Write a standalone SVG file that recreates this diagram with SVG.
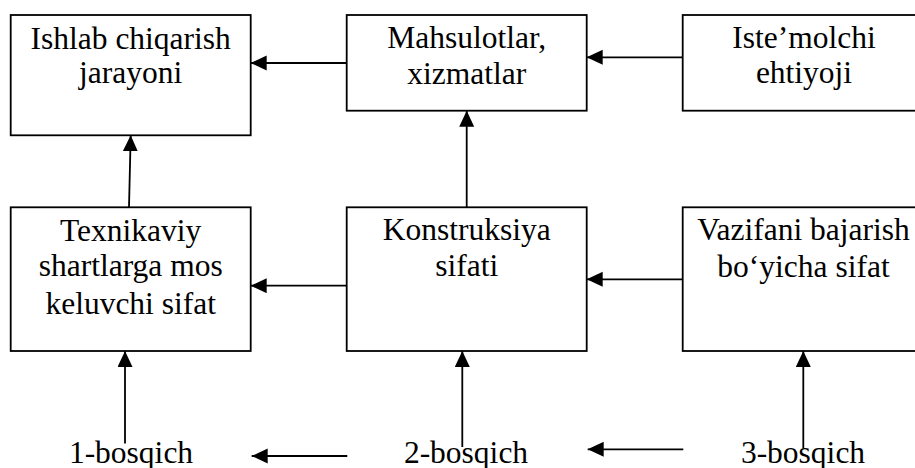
<svg xmlns="http://www.w3.org/2000/svg" width="915" height="468" viewBox="0 0 915 468">
<style>
rect.b{fill:#fff;stroke:#000;stroke-width:1.8}
text{font-size:31.5px;fill:#000;text-anchor:middle}
.c line{stroke:#000;stroke-width:1.8;marker-end:url(#ah)}
</style>
<defs>
<marker id="ah" markerUnits="userSpaceOnUse" markerWidth="18" markerHeight="16" refX="16" refY="7.5" orient="auto">
<path d="M0,0 L16,7.5 L0,15 Z" fill="#000"/>
</marker>
</defs>
<rect width="915" height="468" fill="#fff"/>
<g font-family="'Liberation Serif', Tinos, 'Times New Roman', 'DejaVu Serif', serif">
<g id="n1"><rect class="b" x="10.7" y="15" width="240" height="120.3"/><text x="130.7" y="48.5">Ishlab chiqarish</text><text x="130.7" y="82.5">jarayoni</text></g>
<g id="n2"><rect class="b" x="346.7" y="15" width="240" height="95.7"/><text x="466.7" y="48.3">Mahsulotlar,</text><text x="466.7" y="84">xizmatlar</text></g>
<g id="n3"><rect class="b" x="682.7" y="15" width="242" height="95.7"/><text x="804" y="48.3">Iste’molchi</text><text x="804" y="83.3">ehtiyoji</text></g>
<g id="n4"><rect class="b" x="10.7" y="207.3" width="240" height="143.7"/><text x="130.7" y="240.5">Texnikaviy</text><text x="130.7" y="276">shartlarga mos</text><text x="130.7" y="313.5">keluvchi sifat</text></g>
<g id="n5"><rect class="b" x="346.7" y="207.3" width="240" height="143.7"/><text x="466.7" y="240">Konstruksiya</text><text x="466.7" y="276">sifati</text></g>
<g id="n6"><rect class="b" x="682.7" y="207.3" width="242" height="143.7"/><text x="803.5" y="240">Vazifani bajarish</text><text x="803.5" y="276.5">bo‘yicha sifat</text></g>
<g id="s1"><text x="131" y="463">1-bosqich</text></g>
<g id="s2"><text x="466" y="463">2-bosqich</text></g>
<g id="s3"><text x="803" y="463">3-bosqich</text></g>
</g>
<g class="c" id="connectors">
<line x1="346.7" y1="63" x2="250.7" y2="63"/>
<line x1="682.7" y1="57.3" x2="586.7" y2="57.3"/>
<line x1="129" y1="207.3" x2="130.7" y2="135.3"/>
<line x1="466.7" y1="207.3" x2="466.7" y2="110.7"/>
<line x1="346.7" y1="285.7" x2="250.7" y2="285.7"/>
<line x1="682.7" y1="279.3" x2="586.7" y2="279.3"/>
<line x1="125" y1="443.5" x2="125" y2="351"/>
<line x1="462.3" y1="447" x2="462.3" y2="351"/>
<line x1="803.3" y1="448" x2="803.3" y2="351"/>
<line x1="347.3" y1="456" x2="251.7" y2="456"/>
<line x1="683.3" y1="449.3" x2="587.7" y2="449.3"/>
</g>
</svg>
